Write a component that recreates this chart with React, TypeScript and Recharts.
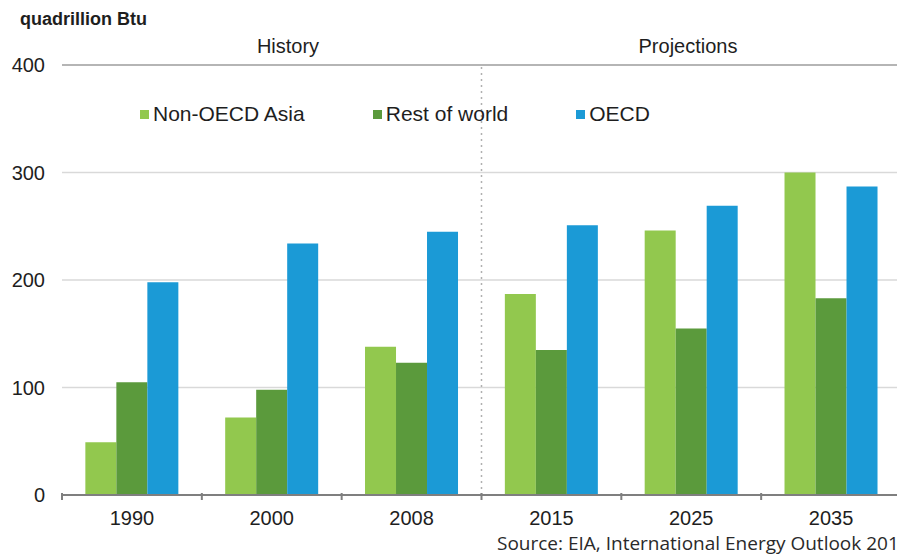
import React from 'react';
import {
  BarChart,
  Bar,
  XAxis,
  YAxis,
  CartesianGrid,
  ReferenceLine,
  Legend,
} from 'recharts';

const years = ['1990', '2000', '2008', '2015', '2025', '2035'];
const nonOecdAsia = [49, 72, 138, 187, 246, 300];
const restOfWorld = [105, 98, 123, 135, 155, 183];
const oecd = [198, 234, 245, 251, 269, 287];
const yTicks = [0, 100, 200, 300, 400];
const firstProjection = '2015';

const chartData = years.map((year, i) => ({
  year,
  asia: nonOecdAsia[i],
  rest: restOfWorld[i],
  oecd: oecd[i],
}));

const series = [
  { key: 'asia', name: 'Non-OECD Asia', color: '#92c84e' },
  { key: 'rest', name: 'Rest of world', color: '#5b9a3c' },
  { key: 'oecd', name: 'OECD', color: '#1b9ad6' },
];

const FONT = '"Liberation Sans", Arial, sans-serif';
const TICK_SIZE = 5;
const TICK_MARGIN = 11;

// year label plus a small tick mark on the left edge of each category
const YearTick = (props: any) => {
  const { x, y, payload, width } = props;
  const half = payload.offset ?? width / (2 * years.length);
  const left = x - half;
  return (
    <g>
      <line
        x1={left}
        x2={left}
        y1={y - TICK_MARGIN - TICK_SIZE - 2}
        y2={y - TICK_MARGIN}
        stroke="#7f7f7f"
        strokeWidth={2}
      />
      <text
        x={x}
        y={y}
        dy="0.71em"
        textAnchor="middle"
        fill="#1e1e1e"
        fontSize={20}
        fontFamily={FONT}
      >
        {payload.value}
      </text>
    </g>
  );
};

const renderLegend = () => (
  <div style={{ display: 'flex', gap: 68, fontFamily: FONT, fontSize: 21, color: '#1e1e1e' }}>
    {series.map((s) => (
      <div key={s.key} style={{ display: 'flex', alignItems: 'center' }}>
        <span style={{ width: 9, height: 9, background: s.color, marginRight: 4, display: 'inline-block' }} />
        <span>{s.name}</span>
      </div>
    ))}
  </div>
);

export default function App() {
  return (
    <div
      style={{
        position: 'absolute',
        left: 0,
        top: 0,
        width: 897,
        height: 558,
        overflow: 'hidden',
        background: '#fff',
      }}
    >
      <div style={{ position: 'absolute', left: 20, top: 9, fontFamily: FONT, fontSize: 18, fontWeight: 'bold', color: '#1e1e1e' }}>
        quadrillion Btu
      </div>
      <div style={{ position: 'absolute', left: 188, width: 200, top: 35, textAlign: 'center', fontFamily: FONT, fontSize: 20, color: '#1e1e1e' }}>
        History
      </div>
      <div style={{ position: 'absolute', left: 588, width: 200, top: 35, textAlign: 'center', fontFamily: FONT, fontSize: 20, color: '#1e1e1e' }}>
        Projections
      </div>

      <BarChart
        width={901}
        height={558}
        data={chartData}
        margin={{ top: 65, right: 0, left: 0, bottom: 33 }}
        barCategoryGap="16.7%"
        barGap={0}
      >
        <CartesianGrid vertical={false} stroke="#d9d9d9" strokeWidth={1.5} />
        <XAxis
          dataKey="year"
          axisLine={{ stroke: '#7f7f7f', strokeWidth: 2 }}
          tickLine={{ stroke: 'none' }}
          tickSize={TICK_SIZE}
          tickMargin={TICK_MARGIN}
          tick={<YearTick />}
          interval={0}
          height={30}
        />
        <YAxis
          domain={[0, 400]}
          ticks={yTicks}
          width={62}
          axisLine={false}
          tickLine={false}
          tickSize={0}
          tickMargin={17}
          tick={{ fill: '#1e1e1e', fontSize: 20, fontFamily: FONT }}
        />
        <ReferenceLine y={400} stroke="#a6a6a6" strokeWidth={1.5} />
        <ReferenceLine
          x={firstProjection}
          position="start"
          stroke="#b0b0b0"
          strokeDasharray="2 4"
          strokeWidth={1.5}
        />
        <Legend
          layout="horizontal"
          verticalAlign="middle"
          align="center"
          content={renderLegend}
          wrapperStyle={{ left: 140, top: 102, width: 'auto' }}
        />
        {series.map((s) => (
          <Bar key={s.key} dataKey={s.key} name={s.name} fill={s.color} isAnimationActive={false} />
        ))}
      </BarChart>

      <div
        style={{
          position: 'absolute',
          left: 497,
          top: 534,
          whiteSpace: 'nowrap',
          fontFamily: '"Open Sans", sans-serif',
          fontSize: 19,
          lineHeight: '19px',
          color: '#2a2a2a',
        }}
      >
        Source: EIA, International Energy Outlook 2011
      </div>
    </div>
  );
}
